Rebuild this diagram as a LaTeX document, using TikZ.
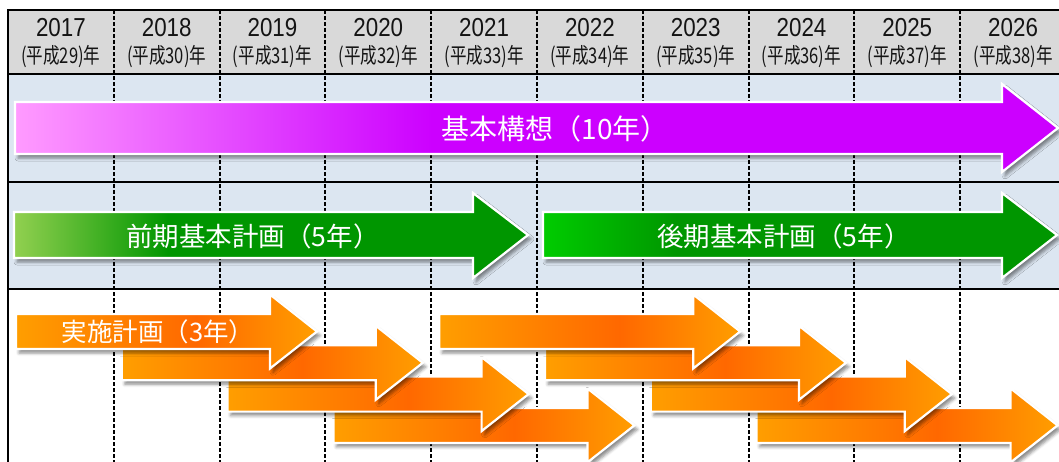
\documentclass[tikz,border=0pt]{standalone}
\usepackage{graphicx}
\usepackage{fontspec}
\setmainfont{Liberation Sans}
\newfontfamily\jpfont{Noto Sans CJK JP}
\usetikzlibrary{arrows,shadows,shadows.blur}
\definecolor{headgray}{RGB}{217, 217, 217}
\definecolor{rowblue}{RGB}{220, 230, 241}
\definecolor{pinkmauve}{RGB}{255, 155, 255}
\definecolor{grapepurple}{RGB}{204, 0, 255}
\definecolor{applegreen}{RGB}{146, 208, 80}
\definecolor{brightgreen}{RGB}{0, 204, 0}
\definecolor{deepgreen}{RGB}{0, 150, 0}
\definecolor{amber}{RGB}{255, 158, 0}
\definecolor{tangerine}{RGB}{255, 104, 0}

\pgfdeclarehorizontalshading{grapefade}{100bp}{color(0bp)=(pinkmauve); color(25bp)=(pinkmauve); color(45bp)=(grapepurple); color(100bp)=(grapepurple)}
\pgfdeclarehorizontalshading{earlyfade}{100bp}{color(0bp)=(applegreen); color(25bp)=(applegreen); color(40bp)=(deepgreen); color(100bp)=(deepgreen)}
\pgfdeclarehorizontalshading{laterfade}{100bp}{color(0bp)=(brightgreen); color(25bp)=(brightgreen); color(38bp)=(deepgreen); color(100bp)=(deepgreen)}
\pgfdeclarehorizontalshading{amberfade}{100bp}{color(0bp)=(amber); color(25bp)=(amber); color(55bp)=(tangerine); color(75bp)=(amber); color(100bp)=(amber)}

\tikzset{
  rowline/.style={black, line width=2pt},
  yeardash/.style={black, line width=1.9pt, dash pattern=on 4pt off 2pt},
  yearlabel/.style={inner sep=0pt, text=black!92, font=\fontsize{26}{26}\selectfont},
  eralabel/.style={inner sep=0pt, text=black!92, font=\jpfont\fontsize{21.5}{21.5}\selectfont},
  planarrow/.style={draw=white, line width=2.2pt, line join=miter,
    blur shadow={shadow xshift=3pt, shadow yshift=-4pt, shadow blur radius=3pt, shadow opacity=45}},
  arrowlabel/.style={inner sep=0pt, text=white, font=\jpfont}
}

\begin{document}
\begin{tikzpicture}[x=1pt, y=-1pt]
            \useasboundingbox (0,0) rectangle (1059,462);
            \clip (0,0) rectangle (1059,462);
            % table
            \fill[headgray]   (8,10) rectangle (1070,74);
            \fill[rowblue]    (8,74) rectangle (1070,289);
            \foreach \i in {1,...,9}
                \draw[yeardash] (8+105.8*\i,10) -- (8+105.8*\i,462);
            \draw[rowline] (1070,10) -- (8,10) -- (8,462);
            \draw[rowline] (8,74)    -- (1070,74);
            \draw[rowline] (8,182.5) -- (1070,182.5);
            \draw[rowline] (8,289)   -- (1070,289);
            % years
            \foreach \yr [count=\i from 0] in {2017,...,2026} {
                \pgfmathtruncatemacro{\era}{\i+29}
                \node[yearlabel] (yr\i)  at (60.9+105.8*\i,27.5) {\scalebox{0.86}[1]{\yr}};
                \node[eralabel]  (era\i) at (60.9+105.8*\i,57) {\scalebox{0.77}[1]{(平成\era)年}};
            }
            % basic concept
            \shade[planarrow, shading=grapefade]
                (15,102) -- (1002,102) -- (1002,84) -- (1058,128) -- (1002,172) -- (1002,154) -- (15,154) -- cycle;
            \node[arrowlabel] (concept) at (555,129) {\fontsize{28}{28}\selectfont 基本構想（10年）};
            % basic plans
            \shade[planarrow, shading=earlyfade]
                (14,212) -- (473,212) -- (473,193) -- (528,235) -- (473,278) -- (473,258) -- (14,258) -- cycle;
            \shade[planarrow, shading=laterfade]
                (543,212) -- (1002,212) -- (1002,193) -- (1057,235) -- (1002,278) -- (1002,258) -- (543,258) -- cycle;
            \node[arrowlabel] (earlyplan) at (253,236) {\fontsize{26.5}{26.5}\selectfont 前期基本計画（5年）};
            \node[arrowlabel] (laterplan) at (784,236) {\fontsize{26.5}{26.5}\selectfont 後期基本計画（5年）};
            % action plans
            \foreach \g in {0,1}
                \foreach \k in {3,2,1,0} {
                    \pgfmathsetmacro{\xl}{16+105.8*(\k+4*\g)}
                    \pgfmathsetmacro{\yc}{331.5+31.3*\k}
                    \shade[planarrow, shading=amberfade]
                        (\xl,\yc-17.5) -- (\xl+254,\yc-17.5) -- (\xl+254,\yc-37) -- (\xl+301,\yc)
                        -- (\xl+254,\yc+37) -- (\xl+254,\yc+17.5) -- (\xl,\yc+17.5) -- cycle;
                }
            \node[arrowlabel] (actionplan) at (158,332) {\fontsize{25.5}{25.5}\selectfont 実施計画（3年）};
\end{tikzpicture}
\end{document}
